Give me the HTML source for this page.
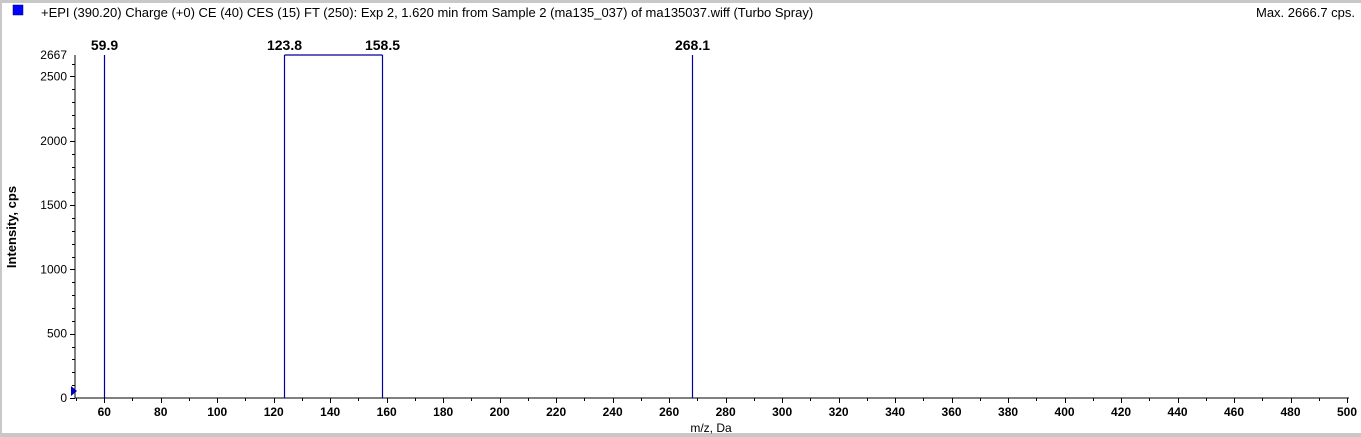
<!DOCTYPE html>
<html><head><meta charset="utf-8"><style>
body{margin:0;width:1361px;height:437px;overflow:hidden;background:#fff;font-family:"Liberation Sans",Arial,sans-serif}
svg{display:block}
</style></head><body>
<svg width="1361" height="437">
<rect x="0" y="0" width="1361" height="437" fill="#c8c8c8"/>
<rect x="2" y="3" width="1359" height="430" fill="#fff"/>
<rect x="13" y="5" width="10" height="10" fill="#0000ff" stroke="#000080" stroke-width="0.5"/>
<text x="41" y="17" font-size="13" fill="#000">+EPI (390.20) Charge (+0) CE (40) CES (15) FT (250): Exp 2, 1.620 min from Sample 2 (ma135_037) of ma135037.wiff (Turbo Spray)</text>
<text x="1355" y="17" font-size="13" text-anchor="end" fill="#000">Max. 2666.7 cps.</text>
<text transform="translate(16,227) rotate(-90)" font-size="13" font-weight="bold" text-anchor="middle">Intensity, cps</text>
<text x="711" y="432" font-size="12" text-anchor="middle">m/z, Da</text>
<g id="axes"></g>
<g id="marks"></g>
<polygon points="71,386 77,391 71,396" fill="#0000c0"/>
</svg>
<script>
const xTicks=[60,80,100,120,140,160,180,200,220,240,260,280,300,320,340,360,380,400,420,440,460,480,500];
const yTicks=[0,500,1000,1500,2000,2500];
const yMaxLabel=2667;
const peakMz=[59.9,123.8,158.5,268.1];
const peakIntensity=[2667,2667,2667,2667];
const peakLabels=["59.9","123.8","158.5","268.1"];
const bridges=[[1,2]];
const X0=76,X1=1347,XMIN=50,XMAX=500,Y0=398,Y1=55,YMAX=2667;
const sx=v=>X0+(v-XMIN)/(XMAX-XMIN)*(X1-X0);
const sy=v=>Y0-(v/YMAX)*(Y0-Y1);
const NS='http://www.w3.org/2000/svg';
const ax=document.getElementById('axes'),mk=document.getElementById('marks');
function mkEl(t,a,p){const e=document.createElementNS(NS,t);for(const k in a)e.setAttribute(k,a[k]);p.appendChild(e);return e;}
let e;
e=mkEl('line',{x1:X0-1,y1:Y0,x2:X1+2,y2:Y0,stroke:'#000','stroke-width':1},ax);


e=mkEl('line',{x1:X0-1,y1:Y1,x2:X0-1,y2:Y0,stroke:'#000','stroke-width':1},ax);


for(let v=XMIN;v<=XMAX;v+=10){const x=Math.round(sx(v))+0.5;const maj=(v%20===0);
e=mkEl('line',{x1:x,y1:Y0,x2:x,y2:Y0+(maj?5:3),stroke:'#000'},ax);

}
xTicks.forEach(v=>{e=mkEl('text',{x:sx(v),y:Y0+18,'font-size':12,'font-weight':'bold','text-anchor':'middle'},ax);e.textContent=v;

});
for(let v=0;v<=2600;v+=100){const y=Math.round(sy(v))+0.5;const maj=(v%500===0);
e=mkEl('line',{x1:X0-1-(maj?5:3),y1:y,x2:X0-1,y2:y,stroke:'#000'},ax);

}
yTicks.concat([yMaxLabel]).forEach(v=>{e=mkEl('text',{x:X0-9,y:sy(v)+4,'font-size':12,'text-anchor':'end'},ax);e.textContent=v;

});
peakMz.forEach((m,i)=>{const x=Math.round(sx(m))+0.5;
e=mkEl('line',{x1:x,y1:Y0,x2:x,y2:sy(peakIntensity[i]),stroke:'#0000a0','stroke-width':1.2},mk);


e=mkEl('text',{x:x,y:sy(peakIntensity[i])-5,'font-size':14,'font-weight':'bold','text-anchor':'middle'},mk);e.textContent=peakLabels[i];

});
bridges.forEach(([a,b])=>{
e=mkEl('line',{x1:Math.round(sx(peakMz[a]))+0.5,y1:sy(peakIntensity[a]),x2:Math.round(sx(peakMz[b]))+0.5,y2:sy(peakIntensity[b]),stroke:'#0000a0','stroke-width':1.2},mk);

});
</script>
</body></html>
